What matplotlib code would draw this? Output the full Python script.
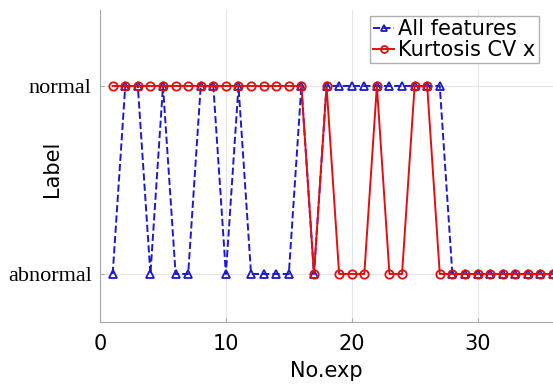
# Label comparison: All features vs Kurtosis CV x
import matplotlib
matplotlib.use('Agg')
import matplotlib.pyplot as plt
import numpy as np

# experiment numbers
exp_no = np.arange(1, 37)

# 1 = normal, 0 = abnormal
all_features = [0, 1, 1, 0, 1, 0, 0, 1, 1, 0,
                1, 0, 0, 0, 0, 1, 0, 1, 1, 1,
                1, 1, 1, 1, 1, 1, 1, 0, 0, 0,
                0, 0, 0, 0, 0, 0]
kurtosis_cv_x = [1, 1, 1, 1, 1, 1, 1, 1, 1, 1,
                 1, 1, 1, 1, 1, 1, 0, 1, 0, 0,
                 0, 1, 0, 0, 1, 1, 0, 0, 0, 0,
                 0, 0, 0, 0, 0, 0]

ytick_labels = ['abnormal', 'normal']
xticks = [0, 10, 20, 30]

sans = ['DejaVu Sans']
serif = ['Liberation Serif', 'DejaVu Serif']

fig = plt.figure(figsize=(5.53, 3.86), dpi=100)
ax = fig.add_axes([0.181, 0.166, 0.819, 0.808])

# blue dashed with triangles
ax.plot(exp_no, all_features, linestyle='--', color='#1a1acc', linewidth=1.4,
        marker='^', markersize=6, markerfacecolor='none', markeredgewidth=1.3,
        label='All features')
# red solid with circles
ax.plot(exp_no, kurtosis_cv_x, linestyle='-', color='#e01010', linewidth=1.4,
        marker='o', markersize=6, markerfacecolor='none', markeredgewidth=1.3,
        label='Kurtosis CV x')

ax.set_xlim(0, 36)
ax.set_ylim(-0.255, 1.404)
ax.set_xticks(xticks)
ax.set_yticks([0, 1])
ax.set_yticklabels(ytick_labels, fontfamily=serif, fontsize=16)
for lbl in ax.get_xticklabels():
    lbl.set_fontfamily(sans)
    lbl.set_fontsize(15)

ax.set_xlabel('No.exp', fontfamily=sans, fontsize=15, labelpad=5)
ax.set_ylabel('Label', fontfamily=sans, fontsize=15)
ax.yaxis.set_label_coords(-0.084, 0.49)

# light grid like MATLAB
ax.grid(True, color='#e4e4e4', linewidth=0.8)
ax.set_axisbelow(True)

for side in ['top', 'right']:
    ax.spines[side].set_visible(False)
for side in ['left', 'bottom']:
    ax.spines[side].set_color('#a8a8a8')
ax.tick_params(direction='in', length=3, color='#a8a8a8')
ax.tick_params(axis='x', pad=9)
ax.tick_params(axis='y', pad=6)

leg = ax.legend(loc='upper left', bbox_to_anchor=(370 / 553, 1 - 16 / 386),
                bbox_transform=fig.transFigure, prop={'family': sans, 'size': 15},
                handlelength=1.0, handletextpad=0.2, borderpad=0.15,
                labelspacing=0.05, borderaxespad=0, fancybox=False,
                framealpha=1.0, edgecolor='#b0b0b0')
for h in leg.get_lines():
    h.set_markersize(5)

plt.savefig('out.png', dpi=100)
